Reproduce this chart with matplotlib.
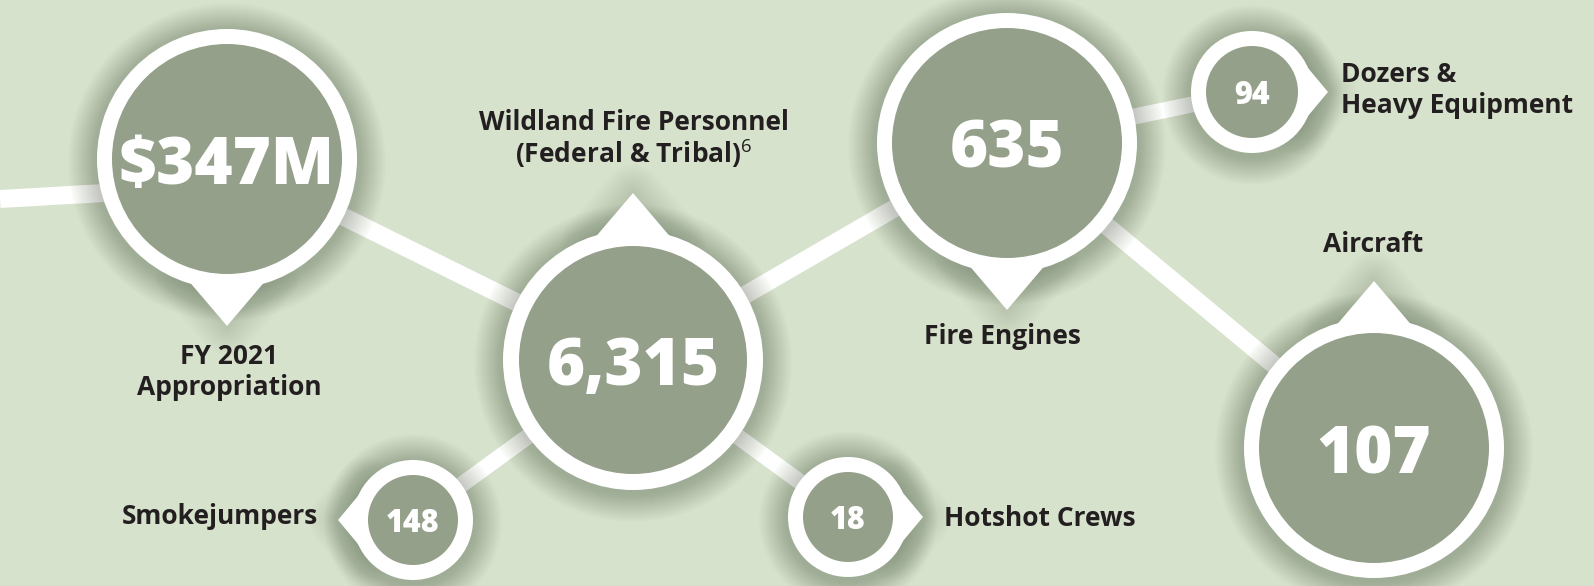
import numpy as np
import matplotlib.pyplot as plt
from matplotlib.patches import Circle, Polygon

plt.rcParams['font.family'] = ['Open Sans', 'DejaVu Sans']
plt.rcParams['mathtext.fontset'] = 'custom'
plt.rcParams['mathtext.rm'] = 'Open Sans'
plt.rcParams['mathtext.it'] = 'Open Sans:italic'
plt.rcParams['mathtext.bf'] = 'Open Sans:bold'

# Dati dell'infografica
valori = [r"\$347M", "6,315", "635", "94", "107", "148", "18"]
etichette = ["FY 2021\nAppropriation",
             "Wildland Fire Personnel\n(Federal & Tribal)$^{6}$",
             "Fire Engines",
             "Dozers &\nHeavy Equipment",
             "Aircraft",
             "Smokejumpers",
             "Hotshot Crews"]
collegamenti = [(0, 1), (1, 2), (2, 3), (2, 4), (1, 5), (1, 6)]

# Layout (pixel)
cx = [227, 633, 1007, 1252, 1374, 413, 848]
cy = [159, 360, 143, 92, 448, 520, 517]
r_out = [130, 130, 130, 61, 130, 60, 60]
r_in = [115, 114, 115, 46, 115, 45, 45]
punta = ['down', 'up', 'down', 'right', 'up', 'left', 'right']
fs_val = [47, 47, 47, 22, 47, 22, 22]
lab_x = [229, 634, 1002, 1341, 1373, 318, 944]
lab_y = [372, 140, 337, 90, 245, 517, 518]
lab_ha = ['center', 'center', 'center', 'left', 'center', 'right', 'left']

sfondo = '#d6e2cc'
verde = '#94a08a'
ombra = '#4f5d45'
testo = '#231f20'
px = 0.72  # punti per pixel a dpi 100

direzioni = {'down': (0, 1), 'up': (0, -1), 'left': (-1, 0), 'right': (1, 0)}

fig = plt.figure(figsize=(15.94, 5.86), dpi=100)
fig.patch.set_facecolor(sfondo)
ax = fig.add_axes([0, 0, 1, 1])
ax.set_xlim(0, 1594)
ax.set_ylim(586, 0)
ax.axis('off')
ax.set_facecolor(sfondo)

# linee di collegamento
ax.plot([0, cx[0]], [199, 186], color='white', lw=18 * px, solid_capstyle='butt', zorder=1)
for a, b in collegamenti:
    lw = 18 if r_out[b] > 100 else 16
    ax.plot([cx[a], cx[b]], [cy[a], cy[b]], color='white', lw=lw * px,
            solid_capstyle='butt', zorder=1)


def triangolo(i):
    dx, dy = direzioni[punta[i]]
    grande = r_out[i] > 100
    h = 37 if grande else 15
    k = 0.85 if grande else 1.2
    R = r_out[i]
    base = R - 14
    w = k * (R + h - base)
    tip = (cx[i] + dx * (R + h), cy[i] + dy * (R + h))
    p1 = (cx[i] + dx * base - dy * w, cy[i] + dy * base + dx * w)
    p2 = (cx[i] + dx * base + dy * w, cy[i] + dy * base - dx * w)
    return [tip, p1, p2]


# ombre sfumate
for i in range(len(valori)):
    tri = triangolo(i)
    for k in range(1, 30):
        ax.add_patch(Circle((cx[i], cy[i] + 3), r_out[i] + k, color=ombra,
                            alpha=0.011, lw=0, zorder=2))
    for k in range(1, 30, 2):
        ax.add_patch(Polygon(tri, closed=True, facecolor='none', edgecolor=ombra,
                             lw=2 * k * px, alpha=0.012, joinstyle='round', zorder=2))

# cerchi e puntatori
for i in range(len(valori)):
    ax.add_patch(Polygon(triangolo(i), closed=True, color='white', lw=0, zorder=3))
    ax.add_patch(Circle((cx[i], cy[i]), r_out[i], color='white', lw=0, zorder=3))
    ax.add_patch(Circle((cx[i], cy[i]), r_in[i], color=verde, lw=0, zorder=4))
    ax.text(cx[i], cy[i], valori[i], color='white', fontsize=fs_val[i], fontweight=800,
            ha='center', va='center_baseline', zorder=5)
    ax.text(lab_x[i], lab_y[i], etichette[i], color=testo, fontsize=19, fontweight='bold',
            ha=lab_ha[i], va='center', multialignment=lab_ha[i],
            linespacing=1.15, zorder=5)

fig.savefig('out.png', dpi=100, facecolor=sfondo)
